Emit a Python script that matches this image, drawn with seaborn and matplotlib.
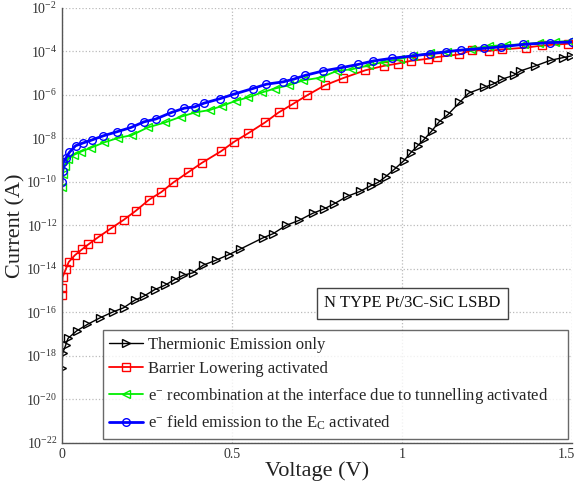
import numpy as np
import pandas as pd
import seaborn as sns
import matplotlib
matplotlib.use("Agg")
import matplotlib.pyplot as plt
import matplotlib.ticker as mtick
import matplotlib.transforms as mtrans

# values; currents stored as log10(I / A)
te_v = [0.000, 0.002, 0.011, 0.018, 0.043, 0.075, 0.113, 0.151, 0.181, 0.214,
        0.241, 0.273, 0.303, 0.331, 0.357, 0.385, 0.415, 0.453, 0.491, 0.523,
        0.590, 0.621, 0.659, 0.697, 0.738, 0.771, 0.800, 0.838, 0.876, 0.909,
        0.930, 0.952, 0.979, 1.006, 1.025, 1.046, 1.066, 1.088, 1.109, 1.136,
        1.169, 1.196, 1.240, 1.267, 1.294, 1.329, 1.348, 1.392, 1.437, 1.473, 1.498]
te_log = [-18.56, -17.88, -17.50, -17.19, -16.85, -16.55, -16.24, -15.97, -15.79, -15.44,
          -15.25, -14.95, -14.75, -14.49, -14.29, -14.18, -13.83, -13.60, -13.34, -13.10,
          -12.58, -12.38, -12.00, -11.77, -11.44, -11.24, -11.01, -10.67, -10.44, -10.17,
          -10.02, -9.76, -9.40, -9.02, -8.67, -8.34, -8.03, -7.65, -7.24, -6.89,
          -6.35, -5.92, -5.66, -5.51, -5.28, -5.10, -4.90, -4.67, -4.41, -4.29, -4.21]

bl_v = [0.000, 0.000, 0.002, 0.011, 0.020, 0.038, 0.059, 0.078, 0.105, 0.143,
        0.182, 0.217, 0.257, 0.292, 0.328, 0.371, 0.411, 0.467, 0.507, 0.547,
        0.597, 0.637, 0.678, 0.721, 0.773, 0.825, 0.892, 0.946, 0.988, 1.025,
        1.077, 1.104, 1.169, 1.207, 1.256, 1.294, 1.364, 1.413, 1.489]
bl_log = [-15.21, -14.90, -14.37, -14.02, -13.68, -13.37, -13.10, -12.87, -12.56, -12.15,
          -11.74, -11.33, -10.81, -10.47, -10.02, -9.56, -9.13, -8.60, -8.15, -7.77,
          -7.27, -6.81, -6.43, -6.02, -5.56, -5.24, -4.87, -4.67, -4.56, -4.44,
          -4.34, -4.26, -4.14, -3.94, -3.98, -3.91, -3.83, -3.73, -3.65]

rec_v = [0.000, 0.002, 0.008, 0.018, 0.035, 0.056, 0.084, 0.125, 0.165, 0.206,
         0.252, 0.303, 0.349, 0.391, 0.434, 0.472, 0.512, 0.547, 0.588, 0.626,
         0.667, 0.710, 0.760, 0.808, 0.854, 0.903, 0.946, 0.995, 1.033, 1.082,
         1.131, 1.202, 1.256, 1.305, 1.359, 1.403, 1.451, 1.495]
rec_log = [-10.24, -9.63, -9.25, -8.95, -8.76, -8.61, -8.44, -8.18, -7.98, -7.85,
           -7.50, -7.27, -7.01, -6.81, -6.70, -6.50, -6.27, -6.12, -5.89, -5.71,
           -5.56, -5.33, -5.21, -4.90, -4.82, -4.64, -4.49, -4.34, -4.21, -4.09,
           -4.03, -3.88, -3.76, -3.71, -3.68, -3.60, -3.56, -3.53]

fe_v = [0.000, 0.002, 0.004, 0.011, 0.022, 0.040, 0.062, 0.087, 0.122, 0.163,
        0.203, 0.241, 0.276, 0.322, 0.360, 0.391, 0.418, 0.466, 0.505, 0.561,
        0.601, 0.651, 0.681, 0.716, 0.768, 0.822, 0.871, 0.916, 0.970, 1.031,
        1.082, 1.129, 1.174, 1.242, 1.292, 1.357, 1.435, 1.500]
fe_log = [-10.02, -9.48, -9.10, -8.92, -8.64, -8.34, -8.21, -8.08, -7.88, -7.69,
          -7.50, -7.24, -7.11, -6.81, -6.61, -6.55, -6.38, -6.17, -5.97, -5.71,
          -5.51, -5.40, -5.28, -5.10, -4.90, -4.75, -4.60, -4.44, -4.32, -4.21,
          -4.11, -4.02, -3.94, -3.86, -3.79, -3.68, -3.60, -3.57]

labels = ["Thermionic Emission only",
          "Barrier Lowering activated",
          "e$^{-}$ recombination at the interface due to tunnelling activated",
          "e$^{-}$ field emission to the E$_{\\mathrm{C}}$ activated"]
colors = ["black", "#ff0000", "#00ee00", "#0000ff"]
markers = [">", "s", "<", "o"]
widths = [1.0, 1.3, 1.3, 2.0]

sns.set_style("white")
plt.rcParams["font.family"] = ["Liberation Serif", "DejaVu Serif"]
plt.rcParams["mathtext.fontset"] = "custom"
plt.rcParams["mathtext.rm"] = "Liberation Serif"
plt.rcParams["mathtext.it"] = "Liberation Serif:italic"

fig = plt.figure(figsize=(5.79, 4.90), dpi=100)
ax = fig.add_axes([0.107, 0.096, 0.881, 0.888])

series = [(te_v, te_log), (bl_v, bl_log), (rec_v, rec_log), (fe_v, fe_log)]
for (v, lg), lab, c, m, w in zip(series, labels, colors, markers, widths):
    df = pd.DataFrame({"V": v, "I": np.power(10.0, lg)})
    sns.lineplot(data=df, x="V", y="I", ax=ax, estimator=None, sort=False,
                 color=c, lw=w, marker=m, markersize=5.5, markerfacecolor="none",
                 markeredgecolor=c, markeredgewidth=1.0, label=lab)

ax.set_yscale("log")
ax.set_xlim(0, 1.5)
ax.set_ylim(1e-22, 1e-2)
ax.yaxis.set_major_locator(mtick.LogLocator(base=100, numticks=20))
ax.yaxis.set_minor_locator(mtick.NullLocator())
ax.yaxis.set_major_formatter(mtick.FuncFormatter(
    lambda y, p: "$10^{%d}$" % round(np.log10(y))))
ax.set_xticks([0, 0.5, 1, 1.5])
ax.set_xticklabels(["0", "0.5", "1", "1.5"])
ax.tick_params(direction="in", length=4, width=0.8, colors="#555555",
               labelsize=10, labelcolor="#333333")
ax.xaxis.offsetText.set_visible(False)
ax.yaxis.offsetText.set_visible(False)
# keep the last x tick label inside the figure
last = ax.get_xticklabels()[-1]
last.set_transform(last.get_transform() +
                   mtrans.ScaledTranslation(-6 / 100, 0, fig.dpi_scale_trans))

ax.grid(True, ls=":", color="#bbbbbb", lw=0.9)
for s in ["top", "right"]:
    ax.spines[s].set_visible(False)
for s in ["left", "bottom"]:
    ax.spines[s].set_color("#555555")
    ax.spines[s].set_linewidth(1.0)

ax.set_xlabel("Voltage (V)", fontsize=16, color="#222222", labelpad=0)
ax.set_ylabel("Current (A)", fontsize=16, color="#222222", labelpad=0)

leg = ax.legend(loc="lower left", bbox_to_anchor=(0.080, 0.009, 0.912, 0.246),
                mode="expand", fontsize=12, frameon=True, fancybox=False,
                handlelength=2.0, handletextpad=0.3, labelspacing=0.5,
                borderpad=0.4, borderaxespad=0)
leg.get_frame().set_edgecolor("#444444")
leg.get_frame().set_linewidth(1.0)

ax.text(0.687, 0.321, "N TYPE Pt/3C-SiC LSBD", transform=ax.transAxes,
        ha="center", va="center", fontsize=12, color="#111111",
        bbox=dict(boxstyle="square,pad=0.45", fc="white", ec="#444444", lw=1.0))

fig.savefig("out.png", dpi=100)
